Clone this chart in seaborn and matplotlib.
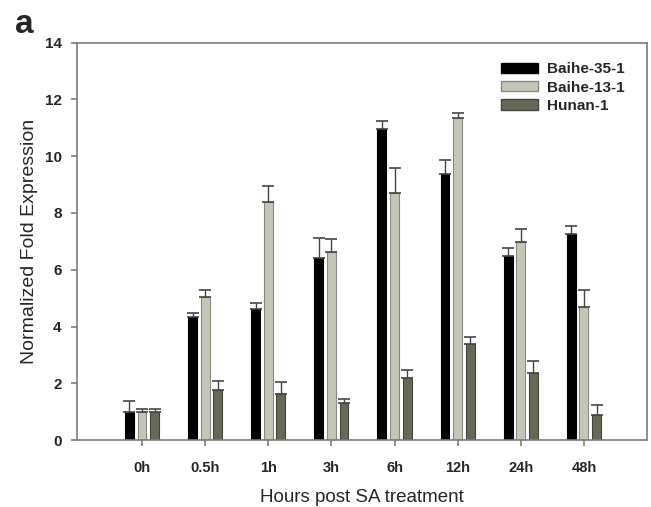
import matplotlib
matplotlib.use("Agg")
import matplotlib.pyplot as plt
import seaborn as sns
import pandas as pd
import numpy as np

categories = ["0h", "0.5h", "1h", "3h", "6h", "12h", "24h", "48h"]
series = ["Baihe-35-1", "Baihe-13-1", "Hunan-1"]
baihe35 = [1.0, 4.33, 4.6, 6.42, 10.97, 9.39, 6.47, 7.27]
baihe35_err = [0.38, 0.15, 0.23, 0.7, 0.26, 0.46, 0.3, 0.26]
baihe13 = [1.0, 5.05, 8.38, 6.63, 8.71, 11.36, 6.97, 4.7]
baihe13_err = [0.1, 0.23, 0.58, 0.47, 0.88, 0.15, 0.48, 0.57]
hunan = [1.0, 1.77, 1.63, 1.3, 2.17, 3.37, 2.37, 0.88]
hunan_err = [0.1, 0.3, 0.42, 0.16, 0.3, 0.25, 0.4, 0.36]

colors = ["#000000", "#c6c8b6", "#6b6b55"]
edges = ["#000000", "#8a8a80", "#45453a"]

df = pd.DataFrame({
    "time": categories * 3,
    "value": baihe35 + baihe13 + hunan,
    "err": baihe35_err + baihe13_err + hunan_err,
    "line": [s for s in series for _ in categories],
})

sns.set_style("white")
plt.rcParams["font.family"] = ["Liberation Sans", "DejaVu Sans"]

fig = plt.figure(figsize=(6.51, 5.07), dpi=100)
ax = fig.add_axes([0.1183, 0.1321, 0.8756, 0.7837])

sns.barplot(data=df, x="time", y="value", hue="line", order=categories,
            hue_order=series, palette=colors, width=0.6, gap=0.3,
            errorbar=None, ax=ax, legend=True)

for cont, ec, vals, errs in zip(ax.containers, edges,
                                [baihe35, baihe13, hunan],
                                [baihe35_err, baihe13_err, hunan_err]):
    xs = []
    for p in cont.patches:
        p.set_edgecolor(ec)
        p.set_linewidth(0.8)
        xs.append(p.get_x() + p.get_width() / 2)
    ax.errorbar(xs, vals, yerr=[np.zeros(len(errs)), errs], fmt="none",
                ecolor="#444444", elinewidth=1.0, capsize=4, capthick=1.2, zorder=1)

ax.set_xlim(-1.03, 8.0)
ax.set_ylim(0, 14)
ax.set_yticks(range(0, 15, 2))
ax.set_xlabel("Hours post SA treatment", fontsize=13.5, labelpad=10)
ax.set_ylabel("Normalized Fold Expression", fontsize=14, labelpad=5)

for s in ax.spines.values():
    s.set_color("#7a7a7a")
    s.set_linewidth(1.2)
ax.tick_params(axis="both", which="both", direction="out", length=4,
               color="#7a7a7a", width=1.2, left=True, bottom=True)
ax.tick_params(axis="x", pad=11)
ax.tick_params(axis="y", pad=7)
for lab in ax.get_xticklabels():
    lab.set_fontweight("bold")
    lab.set_fontsize(10.5)
for lab in ax.get_yticklabels():
    lab.set_fontweight("bold")
    lab.set_fontsize(11)

leg = ax.legend(loc="upper right", frameon=False, fontsize=11,
                handlelength=2.4, handleheight=0.65, handletextpad=0.6,
                labelspacing=0.28, bbox_to_anchor=(0.985, 0.985))
for t in leg.get_texts():
    t.set_fontweight("bold")
for h, ec in zip(leg.legend_handles, edges):
    h.set_edgecolor(ec)

fig.text(0.023, 0.935, "a", fontsize=24, fontweight="bold")

fig.savefig("out.png", dpi=100)
